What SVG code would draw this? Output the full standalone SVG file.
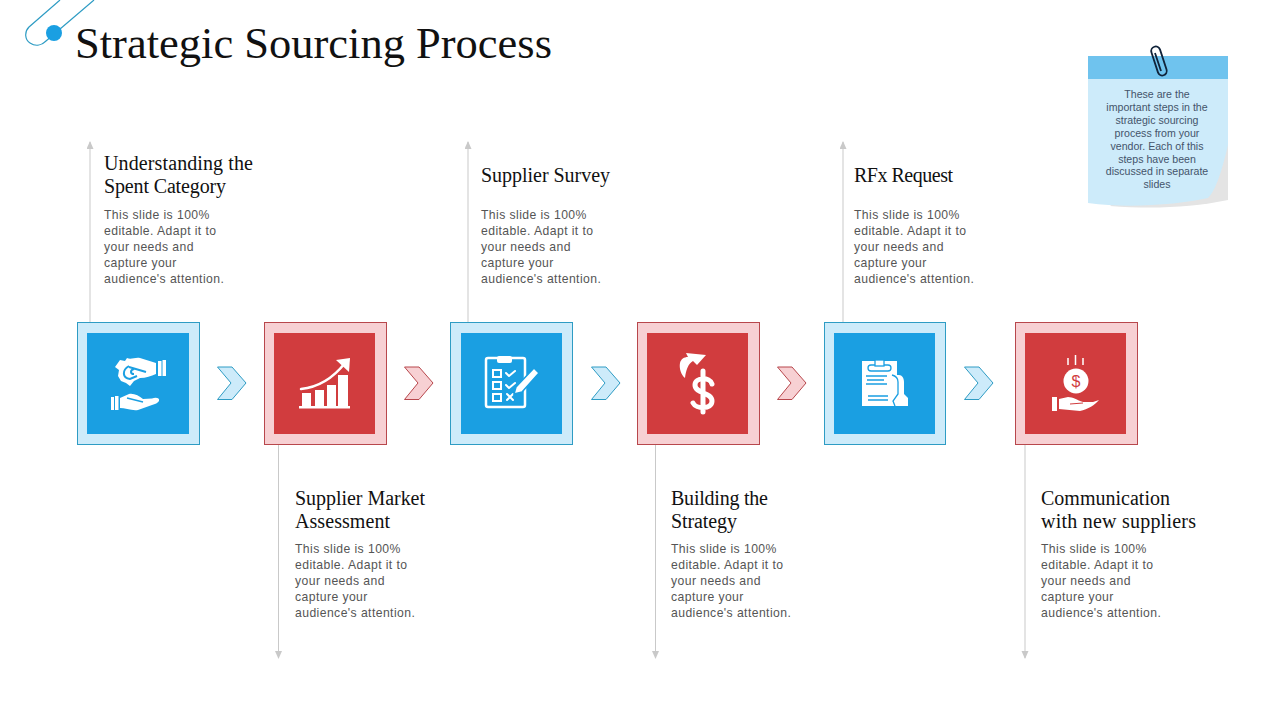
<svg xmlns="http://www.w3.org/2000/svg" width="1280" height="720" viewBox="0 0 1280 720">
<style>
.o-b{fill:#cdebfa;stroke:#2e9cc4;stroke-width:1}
.o-r{fill:#f7d0d3;stroke:#b8474c;stroke-width:1}
.i-b{fill:#1a9fe2}
.i-r{fill:#d13c3e}
.t{font-family:"Liberation Serif",serif;font-size:20px;fill:#111}
.b{font-family:"Liberation Sans",Arial,sans-serif;font-size:12.2px;fill:#555;letter-spacing:.42px}
.n{font-family:"Liberation Sans",Arial,sans-serif;font-size:10.6px;fill:#44546a;text-anchor:middle}
.ln{stroke:#c9c9c9;stroke-width:1;fill:none}
.w{fill:#fff}
.ws{fill:none;stroke:#fff;stroke-linecap:round;stroke-linejoin:round}
.bl{fill:none;stroke:#1a9fe2}
</style>
<defs>
<marker id="ah" markerWidth="8" markerHeight="8" refX="7" refY="3.500" orient="auto" markerUnits="userSpaceOnUse"><path d="M0,0L8,3.500L0,7z" fill="#c9c9c9"/></marker>
</defs>

<g id="clip-deco">
<path d="M60,0L29,27C24,32 25,40 30,43C36,47 42,45 46,41L94,0" fill="none" stroke="#2e9cc4" stroke-width="1.200"/>
<circle cx="54" cy="33" r="8" fill="#1a9fe2"/>
</g>
<text id="title" x="75" y="58" font-family="'Liberation Serif',serif" font-size="44" fill="#111" textLength="477" lengthAdjust="spacingAndGlyphs">Strategic Sourcing Process</text>

<g id="note">
<path d="M1228,140V200C1190,208 1150,209 1110,206L1150,180z" fill="#e4e4e4"/>
<path d="M1088,79H1228V145C1222,170 1216,190 1208,198C1180,204 1130,209 1088,203z" fill="#cdebfa"/>
<rect x="1088" y="56" width="140" height="23" fill="#6fc3ee"/>
<g fill="none" stroke="#10233a" stroke-width="1.800">
<rect x="-4.500" y="-15" width="9" height="30" rx="4.500" transform="translate(1159,61) rotate(-18)"/>
<path d="M1155,53L1161,71"/>
</g>
<text class="n" x="1157" y="98">These are the</text>
<text class="n" x="1157" y="111">important  steps in the</text>
<text class="n" x="1157" y="124">strategic sourcing</text>
<text class="n" x="1157" y="137">process from your</text>
<text class="n" x="1157" y="150">vendor. Each of this</text>
<text class="n" x="1157" y="163">steps have been</text>
<text class="n" x="1157" y="175">discussed in separate</text>
<text class="n" x="1157" y="188">slides</text>
</g>

<g id="connectors">
<line class="ln" x1="90" y1="322" x2="90" y2="142" marker-end="url(#ah)"/>
<line class="ln" x1="468" y1="322" x2="468" y2="142" marker-end="url(#ah)"/>
<line class="ln" x1="843" y1="322" x2="843" y2="142" marker-end="url(#ah)"/>
<line class="ln" x1="278.500" y1="445" x2="278.500" y2="658" marker-end="url(#ah)"/>
<line class="ln" x1="655.500" y1="445" x2="655.500" y2="658" marker-end="url(#ah)"/>
<line class="ln" x1="1025" y1="445" x2="1025" y2="658" marker-end="url(#ah)"/>
<path class="o-b" d="M217.500,367H232L246,383L232,399.500H217.500L231,383z"/>
<path class="o-r" d="M404.500,367H419L433,383L419,399.500H404.500L418,383z"/>
<path class="o-b" d="M591.500,367H606L620,383L606,399.500H591.500L605,383z"/>
<path class="o-r" d="M777.500,367H792L806,383L792,399.500H777.500L791,383z"/>
<path class="o-b" d="M964.500,367H979L993,383L979,399.500H964.500L978,383z"/>
</g>

<g id="node1">
<rect class="o-b" x="77.500" y="322.500" width="122" height="122"/>
<rect class="i-b" x="87" y="333" width="102" height="101"/>
<path class="w" d="M158,361h3.500v15h-3.500zM162.500,360h3.500v16h-3.500zM111,397h3v13h-3zM115,396h3.500v14h-3.500z"/>
<path class="w" d="M156,363L140,358C135,357 131,360 127,358L125,361L120,360L115,367L119,370L118,376L121,381L126,383L130,386L134,381L140,378C146,378 151,376 156,374z"/>
<path class="bl" stroke-width="2" d="M129,367L146,372M129,366C122,370 122,378 130,379L137,376M134,369C130,370 130,374 134,374"/>
<path class="w" d="M120,398L129,394C134,393 139,396 143,399L152,398.500C156,397 160,398 159,401C158,403 155,404 152,405L138,410C132,411 125,408 120,408z"/>
<path class="bl" stroke-width="1.300" d="M127,398L143,402"/>
</g>

<g id="node2">
<rect class="o-r" x="264.500" y="322.500" width="122" height="122"/>
<rect class="i-r" x="274" y="333" width="101" height="101"/>
<path class="w" d="M302,393h9v13h-9zM315,390h9v16h-9zM327,385h9v21h-9zM338,375h10v31h-10zM299,406h51v2.500h-51z"/>
<path class="ws" stroke-width="2.500" d="M301,389C320,387 334,377 345,363"/>
<path class="w" d="M336,360L350,358L349,372z"/>
</g>

<g id="node3">
<rect class="o-b" x="450.500" y="322.500" width="122" height="122"/>
<rect class="i-b" x="461" y="333" width="101" height="101"/>
<rect x="486" y="358" width="39" height="49" rx="2" fill="none" stroke="#fff" stroke-width="2.500"/>
<rect class="w" x="497" y="356" width="15" height="7" rx="2"/>
<g fill="none" stroke="#fff" stroke-width="2"><rect x="493" y="370" width="8" height="7"/><rect x="493" y="382" width="8" height="7"/><rect x="493" y="394" width="8" height="7"/></g>
<path class="ws" stroke-width="2" d="M506,373l3,3l6,-5M506,385l3,3l6,-5M507,394l6,6M513,394l-6,6"/>
<path d="M534,368L539,373L522,392L514,394L516,387z" fill="#fff" stroke="#1a9fe2" stroke-width="1.500"/>
</g>

<g id="node4">
<rect class="o-r" x="637.500" y="322.500" width="122" height="122"/>
<rect class="i-r" x="647" y="333" width="101" height="101"/>
<path class="w" d="M686,353L706,355L697,365L693,361C688,364 686,370 685,378C681,375 679,368 680,363C681,359 684,357 688,357z"/>
<path class="ws" stroke-width="5" d="M712,384C710,377 695,377 695,385C695,394 712,392 712,401C712,410 696,409 693,403M703,371V412"/>
</g>

<g id="node5">
<rect class="o-b" x="824.500" y="322.500" width="121" height="122"/>
<rect class="i-b" x="834" y="333" width="101" height="101"/>
<path class="w" d="M862,361H897V375H899C902,375 904,378 904,382V394L908,398V406H862z"/>
<rect x="868" y="365" width="23" height="6" rx="3" fill="#fff" stroke="#1a9fe2" stroke-width="1.300"/>
<rect x="875" y="360" width="9" height="6" fill="#fff" stroke="#1a9fe2" stroke-width="1.300"/>
<path class="bl" stroke-width="1.300" d="M866,376H887M867,380H884M866,384H887M868,396H888M868,400H888"/>
<path class="bl" stroke-width="1.300" d="M892,375C896,376 898,378 898,382V394L893,401L895,406"/>
</g>

<g id="node6">
<rect class="o-r" x="1015.500" y="322.500" width="122" height="122"/>
<rect class="i-r" x="1025" y="333" width="101" height="101"/>
<path d="M1068,358V365M1075.500,355V365M1083,358V365" stroke="#fff" stroke-width="1.500"/>
<circle class="w" cx="1076" cy="381" r="12.500"/>
<text x="1076" y="386.500" font-family="'Liberation Sans',sans-serif" font-size="16" fill="#d13c3e" text-anchor="middle">$</text>
<path class="w" d="M1052,397h5v14h-5zM1059,399L1068,397C1073,397 1077,400 1083,402L1093,402L1099,400C1095,405 1088,409 1080,411L1059,409z"/>
<path d="M1070,404L1083,403" stroke="#d13c3e" stroke-width="1"/>
</g>

<g id="text1">
<text class="t" x="104" y="170" textLength="149">Understanding the</text>
<text class="t" x="104" y="193" textLength="122">Spent Category</text>
<text class="b" x="104" y="219">This slide is 100%</text>
<text class="b" x="104" y="235">editable.  Adapt it to</text>
<text class="b" x="104" y="251">your needs and</text>
<text class="b" x="104" y="267">capture your</text>
<text class="b" x="104" y="283">audience's attention.</text>
</g>
<g id="text2">
<text class="t" x="295" y="505" textLength="130">Supplier Market</text>
<text class="t" x="295" y="528" textLength="95">Assessment</text>
<text class="b" x="295" y="553">This slide is 100%</text>
<text class="b" x="295" y="569">editable.  Adapt it to</text>
<text class="b" x="295" y="585">your needs and</text>
<text class="b" x="295" y="601">capture your</text>
<text class="b" x="295" y="617">audience's attention.</text>
</g>
<g id="text3">
<text class="t" x="481" y="182" textLength="129">Supplier Survey</text>
<text class="b" x="481" y="219">This slide is 100%</text>
<text class="b" x="481" y="235">editable.  Adapt it to</text>
<text class="b" x="481" y="251">your needs and</text>
<text class="b" x="481" y="267">capture your</text>
<text class="b" x="481" y="283">audience's attention.</text>
</g>
<g id="text4">
<text class="t" x="671" y="505" textLength="97">Building the</text>
<text class="t" x="671" y="528" textLength="66">Strategy</text>
<text class="b" x="671" y="553">This slide is 100%</text>
<text class="b" x="671" y="569">editable.  Adapt it to</text>
<text class="b" x="671" y="585">your needs and</text>
<text class="b" x="671" y="601">capture your</text>
<text class="b" x="671" y="617">audience's attention.</text>
</g>
<g id="text5">
<text class="t" x="854" y="182" textLength="99">RFx Request</text>
<text class="b" x="854" y="219">This slide is 100%</text>
<text class="b" x="854" y="235">editable.  Adapt it to</text>
<text class="b" x="854" y="251">your needs and</text>
<text class="b" x="854" y="267">capture your</text>
<text class="b" x="854" y="283">audience's attention.</text>
</g>
<g id="text6">
<text class="t" x="1041" y="505" textLength="129">Communication</text>
<text class="t" x="1041" y="528" textLength="155">with new suppliers</text>
<text class="b" x="1041" y="553">This slide is 100%</text>
<text class="b" x="1041" y="569">editable.  Adapt it to</text>
<text class="b" x="1041" y="585">your needs and</text>
<text class="b" x="1041" y="601">capture your</text>
<text class="b" x="1041" y="617">audience's attention.</text>
</g>
</svg>
